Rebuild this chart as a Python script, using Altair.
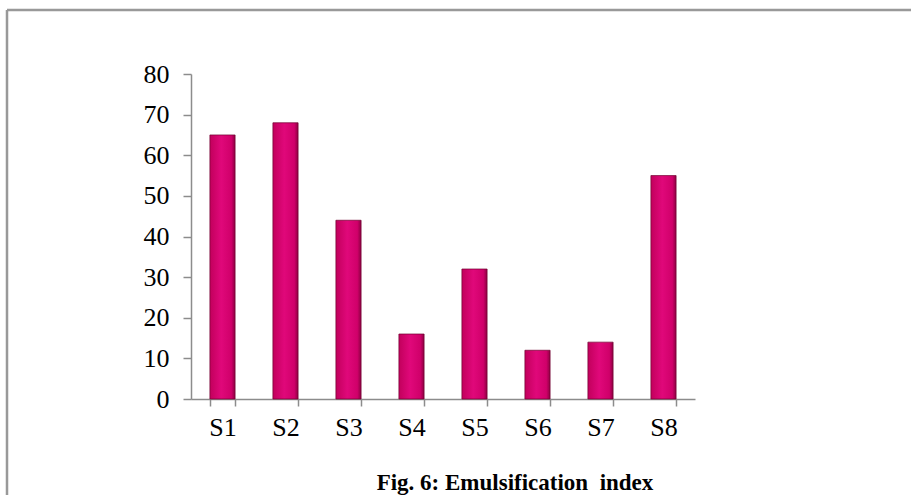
import altair as alt
import pandas as pd

categories = ["S1", "S2", "S3", "S4", "S5", "S6", "S7", "S8"]
values = [65, 68, 44, 16, 32, 12, 14, 55]
y_ticks = [0, 10, 20, 30, 40, 50, 60, 70, 80]
title_text = "Fig. 6: Emulsification\u00a0 index"

df = pd.DataFrame({"sample": categories, "value": values})

W, H = 504, 325
PL, PT = 191, 74

x_enc = alt.X("sample:N", sort=categories, title=None,
              scale=alt.Scale(paddingInner=0.6, paddingOuter=0.3),
              axis=alt.Axis(labelAngle=0, labelFont="Liberation Serif", labelFontSize=26,
                            labelColor="black", labelPadding=8, domainColor="#8c8c8c",
                            domainWidth=1.5, tickColor="#8c8c8c", tickSize=7, tickWidth=1.5,
                            tickBand="extent", grid=False))
y_enc = alt.Y("value:Q", title=None,
              scale=alt.Scale(domain=[0, 80]),
              axis=alt.Axis(values=y_ticks, labelFont="Liberation Serif", labelFontSize=26,
                            labelColor="black", labelPadding=14, domainColor="#8c8c8c",
                            domainWidth=1.5, tickColor="#8c8c8c", tickSize=8, tickWidth=1.5,
                            grid=False))

bars = alt.Chart(df).mark_bar(
    color=alt.Gradient(gradient="linear", x1=0, x2=1, y1=0, y2=0,
                       stops=[alt.GradientStop(offset=0, color="#c2005c"),
                              alt.GradientStop(offset=0.45, color="#e0087a"),
                              alt.GradientStop(offset=0.85, color="#d0006a"),
                              alt.GradientStop(offset=1, color="#8e0042")]),
    stroke="#70002f", strokeWidth=0.7
).encode(x=x_enc, y=y_enc)

border_df = pd.DataFrame({"k": [0]})
top_line = alt.Chart(border_df).mark_rule(color="#999999", strokeWidth=2.5).encode(
    x=alt.value(7 - PL), x2=alt.value(911 - PL), y=alt.value(10 - PT))
left_line = alt.Chart(border_df).mark_rule(color="#999999", strokeWidth=2.5).encode(
    x=alt.value(7 - PL), y=alt.value(10 - PT), y2=alt.value(495 - PT))
caption = alt.Chart(pd.DataFrame({"t": [title_text]})).mark_text(
    font="Liberation Serif", fontSize=23, fontWeight="bold", color="black",
    align="center", baseline="alphabetic").encode(
    text="t:N", x=alt.value(515 - PL), y=alt.value(490 - PT))

chart = alt.layer(bars, top_line, left_line, caption).properties(
    width=W, height=H,
    autosize=alt.AutoSizeParams(type="none"),
    padding={"left": PL, "top": PT, "right": 911 - PL - W, "bottom": 495 - PT - H},
    background="white"
).configure_view(stroke=None)

chart.save("out.html", embed_options={"renderer": "svg", "actions": False})
